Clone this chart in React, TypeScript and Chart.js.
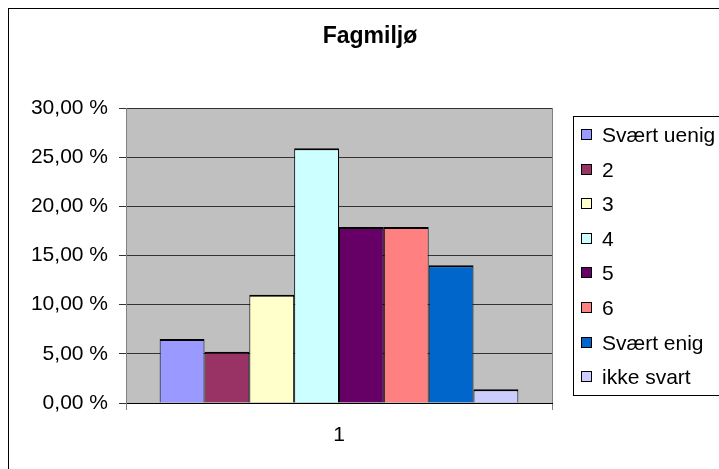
import React, { useEffect, useRef } from "react";
import { Chart, registerables } from "chart.js";

Chart.register(...registerables);

const title = "Fagmiljø";
const categories = ["1"];
const seriesNames = ["Svært uenig", "2", "3", "4", "5", "6", "Svært enig", "ikke svart"];
const seriesValues = [6.5, 5.2, 11.0, 25.9, 17.9, 17.9, 14.0, 1.4];
const seriesColors = ["#9999FF", "#993366", "#FFFFCC", "#CCFFFF", "#660066", "#FF8080", "#0066CC", "#CCCCFF"];
const yTicks = [0, 5, 10, 15, 20, 25, 30];

const FONT = "'Liberation Sans', Arial, sans-serif";

const plotBg = {
  id: "plotBg",
  beforeDraw(chart: any) {
    const { ctx, chartArea: a } = chart;
    ctx.save();
    ctx.fillStyle = "#C0C0C0";
    ctx.fillRect(a.left, a.top, a.right - a.left, a.bottom - a.top);
    ctx.strokeStyle = "#808080";
    ctx.lineWidth = 1;
    ctx.strokeRect(Math.round(a.left) + 0.5, Math.round(a.top) + 0.5, Math.round(a.right - a.left), Math.round(a.bottom - a.top));
    ctx.restore();
  },
};

const chartTitle = {
  id: "chartTitle",
  afterDraw(chart: any) {
    const { ctx } = chart;
    ctx.save();
    ctx.font = `bold 23px ${FONT}`;
    ctx.fillStyle = "#000";
    ctx.textAlign = "center";
    ctx.textBaseline = "alphabetic";
    ctx.fillText(title, 361, 34);
    ctx.restore();
  },
};

const boxedLegend = {
  id: "boxedLegend",
  afterDraw(chart: any) {
    const { ctx } = chart;
    const left = 564;
    const top = 107;
    const height = 279;
    const first = 126;
    const step = 34.6;
    ctx.save();
    ctx.strokeStyle = "#000";
    ctx.lineWidth = 1;
    ctx.strokeRect(left + 0.5, top + 0.5, 300, height);
    ctx.font = `21px ${FONT}`;
    ctx.textBaseline = "middle";
    ctx.textAlign = "left";
    chart.data.datasets.forEach((ds: any, i: number) => {
      const y = Math.round(first + i * step);
      ctx.fillStyle = ds.backgroundColor;
      ctx.fillRect(left + 8, y - 6, 11, 11);
      ctx.strokeStyle = "#000";
      ctx.strokeRect(left + 8.5, y - 5.5, 10, 10);
      ctx.fillStyle = "#000";
      ctx.fillText(ds.label, left + 29, y + 1);
    });
    ctx.restore();
  },
};

export default function App() {
  const ref = useRef<HTMLCanvasElement>(null);
  useEffect(() => {
    if (!ref.current) return;
    const chart = new Chart(ref.current, {
      type: "bar",
      data: {
        labels: categories,
        datasets: seriesNames.map((name, i) => ({
          label: name,
          data: [seriesValues[i]],
          backgroundColor: seriesColors[i],
          borderColor: "#000",
          borderWidth: { top: 2, left: 1, right: 1, bottom: 1 },
          categoryPercentage: 0.842,
          barPercentage: 1,
        })),
      },
      options: {
        responsive: false,
        animation: false,
        devicePixelRatio: 1,
        layout: { padding: { left: 0, right: 167, top: 99, bottom: 0 } },
        plugins: {
          legend: { display: false },
          tooltip: { enabled: false },
          title: { display: false },
        },
        scales: {
          x: {
            offset: true,
            grid: {
              display: true,
              offset: true,
              drawOnChartArea: false,
              drawTicks: true,
              tickLength: 7,
              color: "#808080",
              tickColor: "#808080",
            },
            border: { display: true, color: "#000", width: 1 },
            ticks: { color: "#000", font: { family: FONT, size: 21 }, padding: 13 },
            afterFit(scale: any) {
              scale.height = 66;
            },
          },
          y: {
            min: 0,
            max: 30,
            afterBuildTicks(scale: any) {
              scale.ticks = yTicks.map((v) => ({ value: v }));
            },
            grid: {
              color: "#333333",
              tickColor: "#333333",
              tickLength: 7,
              lineWidth: 1,
            },
            border: { display: true, color: "#808080", width: 1 },
            ticks: {
              color: "#000",
              font: { family: FONT, size: 21 },
              padding: 11,
              callback: (v: any) => `${Number(v).toFixed(2).replace(".", ",")} %`,
            },
            afterFit(scale: any) {
              scale.width = 117;
            },
          },
        },
      },
      plugins: [plotBg, chartTitle, boxedLegend],
    });
    return () => chart.destroy();
  }, []);
  return (
    <div
      style={{
        position: "fixed",
        left: 8,
        top: 8,
        width: 720,
        height: 470,
        borderLeft: "1px solid #000",
        borderTop: "1px solid #000",
        overflow: "hidden",
        background: "#fff",
      }}
    >
      <canvas ref={ref} width={710} height={460} style={{ display: "block" }} />
    </div>
  );
}
